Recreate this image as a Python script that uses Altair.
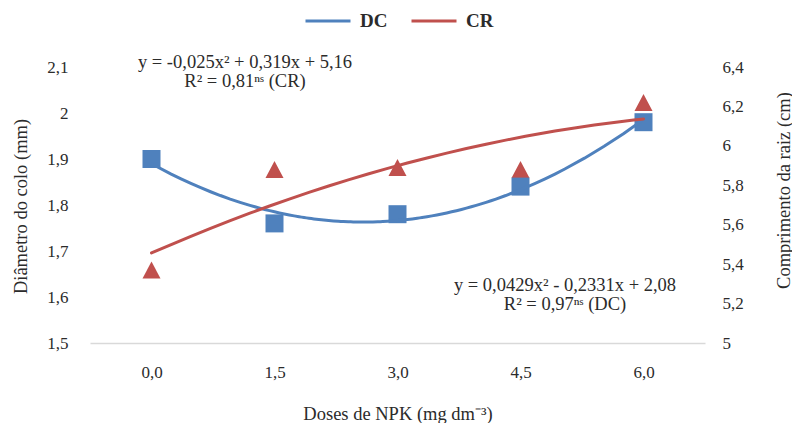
import altair as alt
import pandas as pd

# NPK doses (mg dm-3) and the two measured responses
doses = [0.0, 1.5, 3.0, 4.5, 6.0]
diametro_colo = [1.90, 1.76, 1.78, 1.84, 1.98]        # DC, mm
comprimento_raiz = [5.37, 5.88, 5.89, 5.88, 6.22]     # CR, cm

series_names = ["DC", "CR"]
series_colors = ["#4F81BD", "#C0504D"]

eq_cr = ["y = -0,025x² + 0,319x + 5,16", "R² = 0,81ⁿˢ (CR)"]
eq_dc = ["y = 0,0429x² - 0,2331x + 2,08", "R² = 0,97ⁿˢ (DC)"]

df = pd.DataFrame({"dose": doses, "dc": diametro_colo, "cr": comprimento_raiz})

FONT = "Times New Roman"
TXT = "#2b2b2b"
LABEL_SIZE = 17
TITLE_SIZE = 18.5
W, H = 615, 276

x_enc = alt.X(
    "dose:Q",
    scale=alt.Scale(domain=[-0.75, 6.75], nice=False, zero=False),
    axis=alt.Axis(
        values=doses,
        labelExpr="replace(format(datum.value, '.1f'), '.', ',')",
        title="Doses de NPK (mg dm⁻³)",
        grid=False, ticks=False,
        domainColor="#D9D9D9", domainWidth=1.5,
        labelPadding=21, labelFontSize=LABEL_SIZE, labelFont=FONT, labelColor=TXT,
        titleFont=FONT, titleFontSize=TITLE_SIZE, titleFontWeight="normal", titleColor=TXT,
        titleY=76, titleBaseline="alphabetic",
    ),
)

dc_scale = alt.Scale(domain=[1.5, 2.1], nice=False, zero=False)
cr_scale = alt.Scale(domain=[5.0, 6.4], nice=False, zero=False)

color_scale = alt.Scale(domain=series_names, range=series_colors)
legend = alt.Legend(
    orient="none", legendX=214, legendY=-70, direction="horizontal",
    title=None, symbolType="stroke", symbolSize=2025, symbolStrokeWidth=3,
    labelFont=FONT, labelFontSize=19, labelFontWeight="bold", labelColor=TXT,
    labelOffset=8, columnPadding=17, padding=0,
)

cr_points = alt.Chart(df).mark_point(
    shape="M0,-0.95L1,0.95L-1,0.95Z", filled=True, size=324, opacity=1,
    color=series_colors[1],
).encode(
    x=x_enc,
    y=alt.Y("cr:Q", scale=cr_scale, axis=alt.Axis(
        orient="right", values=[5.0, 5.2, 5.4, 5.6, 5.8, 6.0, 6.2, 6.4],
        labelExpr="replace(format(datum.value, '.1~f'), '.', ',')",
        title="Comprimento da raiz (cm)", grid=False, ticks=False, domain=False,
        labelPadding=17, labelFontSize=LABEL_SIZE, labelFont=FONT, labelColor=TXT,
        titleFont=FONT, titleFontSize=TITLE_SIZE, titleFontWeight="normal", titleColor=TXT,
        titleAngle=270, titleX=78, titleY=123, titleAlign="center", titleBaseline="middle",
    )),
)

dc_points = alt.Chart(df).mark_point(
    shape="square", filled=True, size=324, opacity=1, color=series_colors[0],
).encode(
    x=x_enc,
    y=alt.Y("dc:Q", scale=dc_scale, axis=alt.Axis(
        values=[1.5, 1.6, 1.7, 1.8, 1.9, 2.0, 2.1],
        labelExpr="replace(format(datum.value, '.1~f'), '.', ',')",
        title="Diâmetro do colo (mm)", grid=False, ticks=False, domain=False,
        labelPadding=22, labelFontSize=LABEL_SIZE, labelFont=FONT, labelColor=TXT,
        titleFont=FONT, titleFontSize=TITLE_SIZE, titleFontWeight="normal", titleColor=TXT,
        titleAngle=270, titleX=-70, titleY=139, titleAlign="center", titleBaseline="middle",
    )),
)

# Second-order polynomial trend lines fitted to each series (y on dose)
dc_line = alt.Chart(df).transform_regression(
    "dose", "dc", method="poly", order=2
).transform_calculate(
    serie="'DC'"
).mark_line(strokeWidth=3, strokeCap="round").encode(
    x=x_enc,
    y=alt.Y("dc:Q", scale=dc_scale, axis=None),
    color=alt.Color("serie:N", scale=color_scale, legend=legend),
)

cr_line = alt.Chart(df).transform_regression(
    "dose", "cr", method="poly", order=2
).transform_calculate(
    serie="'CR'"
).mark_line(strokeWidth=3, strokeCap="round").encode(
    x=x_enc,
    y=alt.Y("cr:Q", scale=cr_scale, axis=None),
    color=alt.Color("serie:N", scale=color_scale, legend=legend),
)

def eq_text(lines, cx, cy):
    layers = []
    for i, t in enumerate(lines):
        layers.append(
            alt.Chart(pd.DataFrame({"txt": [t]})).mark_text(
                font=FONT, fontSize=18.5, fontWeight="normal", color=TXT,
                align="center", baseline="middle",
            ).encode(text="txt:N", x=alt.value(cx), y=alt.value(cy + 19 * i))
        )
    return layers

annotations = eq_text(eq_cr, 155, -5) + eq_text(eq_dc, 475, 218)

chart = alt.layer(
    cr_points, dc_points, dc_line, cr_line, *annotations
).resolve_scale(
    y="independent"
).properties(
    width=W, height=H,
    padding={"left": 90, "top": 67, "right": 87, "bottom": 80},
    autosize=alt.AutoSizeParams(type="none"),
).configure_view(stroke=None)

chart.save("out.html", embed_options={"renderer": "svg", "actions": False})
